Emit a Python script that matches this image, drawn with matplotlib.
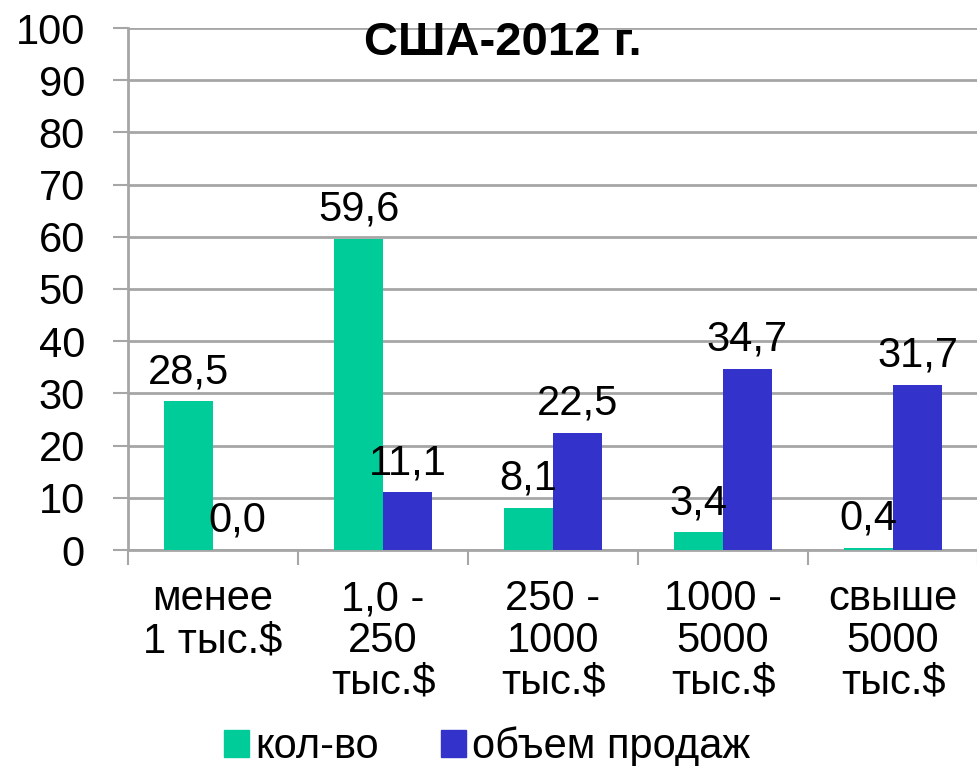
import matplotlib.pyplot as plt
import numpy as np
from matplotlib.patches import Patch

plt.rcParams['font.family'] = ['Liberation Sans', 'DejaVu Sans']

# --- DATA ---
categories = ["менее\n1 тыс.$", "1,0 -\n250\nтыс.$", "250 -\n1000\nтыс.$",
              "1000 -\n5000\nтыс.$", "свыше\n5000\nтыс.$"]
kolvo = [28.5, 59.6, 8.1, 3.4, 0.4]
obem = [0.0, 11.1, 22.5, 34.7, 31.7]
series_names = ["кол-во", "объем продаж"]
title = "США-2012 г."

green = "#00CC99"
blue = "#3333CC"
grid_col = "#A6A6A6"
fs = 30

fig = plt.figure(figsize=(9.78, 7.66), dpi=100)
ax = fig.add_axes([128 / 978, 216 / 766, 850 / 978, 522 / 766])

x = np.arange(len(categories))
w = 0.288
b1 = ax.bar(x - w / 2, kolvo, w, color=green, zorder=3)
b2 = ax.bar(x + w / 2, obem, w, color=blue, zorder=3)

# value labels above the bars
for bars, vals in ((b1, kolvo), (b2, obem)):
    for r, v in zip(bars, vals):
        ax.annotate(f"{v:.1f}".replace(".", ","),
                    (r.get_x() + r.get_width() / 2, v),
                    xytext=(0, 13), textcoords="offset points",
                    ha="center", va="baseline", fontsize=fs, zorder=4)

ax.set_xlim(-0.5, len(categories) - 0.5)
ax.set_ylim(0, 100)
ax.set_yticks(np.arange(0, 101, 10))
ax.yaxis.grid(True, color=grid_col, lw=2, zorder=0)

ax.set_xticks(np.arange(-0.5, len(categories), 1))
ax.set_xticklabels([])
ax.set_xticks(x, minor=True)
ax.set_xticklabels(categories, minor=True, fontsize=fs, linespacing=1.06)
ax.tick_params(axis="x", which="minor", length=0, pad=21)
ax.tick_params(axis="x", which="major", length=11, width=1.5, color=grid_col, direction="out")
ax.tick_params(axis="y", length=11, width=1.5, color=grid_col, direction="out",
               labelsize=fs, pad=20)

for s in ("top", "right"):
    ax.spines[s].set_visible(False)
for s in ("left", "bottom"):
    ax.spines[s].set_color(grid_col)
    ax.spines[s].set_linewidth(2)

fig.text(503 / 978, 1 - 43 / 766, title, ha="center", va="center",
         fontsize=34, fontweight="bold")

handles = [Patch(color=green), Patch(color=blue)]
fig.legend(handles, series_names, loc="center", bbox_to_anchor=(487 / 978, 1 - 747 / 766),
           ncol=2, frameon=False, fontsize=fs, handlelength=0.6, handleheight=0.6,
           handletextpad=0.15, columnspacing=1.5)

fig.savefig("out.png", dpi=100)
